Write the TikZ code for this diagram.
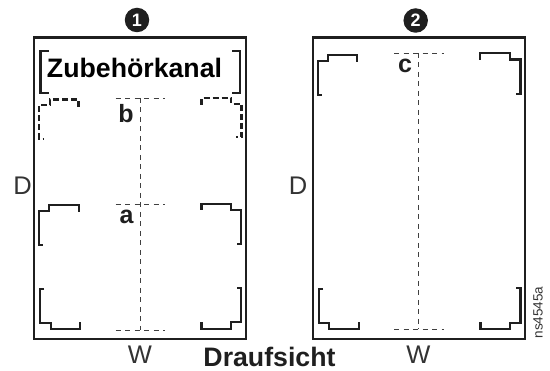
\documentclass[tikz,border=0pt]{standalone}
\usepackage{fontspec}
\setmainfont{Liberation Sans}
\tikzset{
 x=1pt,y=-1pt,
 frame/.style={draw=black!88,line width=2.4pt,line join=miter},
 rail/.style={draw=black!88,line width=2.1pt,line join=miter},
 dashrail/.style={rail,dash pattern=on 6pt off 3pt},
 guide/.style={draw=black!75,line width=0.7pt,dash pattern=on 5pt off 4.5pt},
 bigtext/.style={inner sep=0pt,anchor=base,font=\fontsize{26.7pt}{28pt}\selectfont\bfseries},
 boldtext/.style={inner sep=0pt,anchor=base,font=\fontsize{25pt}{28pt}\selectfont\bfseries,text=black!88},
 dim/.style={inner sep=0pt,anchor=base,font=\fontsize{25.5pt}{28pt}\selectfont,text=black!80},
 badge/.style={circle,fill=black!88,minimum size=24.5pt,inner sep=0pt,text=white,font=\fontsize{18pt}{18pt}\selectfont\bfseries},
}
\begin{document}
\begin{tikzpicture}
\useasboundingbox (0,0) rectangle (550,371);
\path[frame] (33.8,37.5) rectangle (246,339);
\path[frame] (312.8,37.5) rectangle (525,339);
\node[badge] (n1) at (137,20) {1};
\node[badge] (n2) at (415.7,20.5) {2};
% channel brackets
\draw[rail] (49,51) -- (40.5,51) -- (40.5,93) -- (49,93);
\draw[rail] (232,51) -- (240,51) -- (240,93) -- (232,93);
\node[bigtext] (zk) at (134.5,78) {Zubehörkanal};
% panel 1 rails
\draw[dashrail] (78.5,107) -- (78.5,99.5) -- (50,99.5) -- (50,105) -- (39,105) -- (39,139) -- (44,139);
\draw[dashrail] (201.5,105) -- (201.5,98) -- (231,98) -- (231,104) -- (241.5,104) -- (241.5,137) -- (236,137);
\draw[rail] (79,212) -- (79,205) -- (49,205) -- (49,211) -- (39,211) -- (39,245) -- (43,245);
\draw[rail] (201.5,210) -- (201.5,204) -- (231,204) -- (231,210) -- (241,210) -- (241,244) -- (237,244);
\draw[rail] (44,289) -- (40,289) -- (40,323) -- (51,323) -- (51,329) -- (80,329) -- (80,322);
\draw[rail] (237,288) -- (241,288) -- (241,322) -- (231,322) -- (231,329) -- (201.5,329) -- (201.5,322);
% panel 1 guides
\coordinate (a1) at (140.5,98); \coordinate (a2) at (140.5,330);
\draw[guide] (a1) -- (a2);
\draw[guide] (115.5,98) -- (165,98);
\draw[guide] (115.5,204) -- (165,204);
\draw[guide] (115.5,330) -- (165,330);
\node[boldtext] (b) at (126,123) {b};
\node[boldtext] (a) at (126.5,224) {a};
% panel 2 rails
\draw[rail] (357.3,62) -- (357.3,55) -- (327.7,55) -- (327.7,61) -- (317.7,61) -- (317.7,95) -- (322,95);
\draw[rail] (480.3,60) -- (480.3,53) -- (510,53) -- (510,59.5) -- (520.5,59.5) -- (520.5,94) -- (516,94);
\draw[rail] (323,289) -- (319,289) -- (319,323) -- (329,323) -- (329,329) -- (359,329) -- (359,322);
\draw[rail] (516,288) -- (520.5,288) -- (520.5,323) -- (510,323) -- (510,329) -- (480.5,329) -- (480.5,322);
% panel 2 guides
\coordinate (c1) at (418.7,53); \coordinate (c2) at (418.7,329);
\draw[guide] (c1) -- (c2);
\draw[guide] (394,53) -- (444,53);
\draw[guide] (394,329) -- (444,329);
\node[boldtext] (c) at (405,73) {c};
% dimensions
\node[dim] (D1) at (22.5,195) {D};
\node[dim] (D2) at (298,195) {D};
\node[dim] (W1) at (140,363.5) {W};
\node[dim] (W2) at (418.5,363.5) {W};
\node[bigtext,text=black!88] (top) at (269.5,366.5) {Draufsicht};
\node[inner sep=0pt,rotate=90,font=\fontsize{13.5pt}{14pt}\selectfont,text=black!80] (ref) at (538,312.5) {ns4545a};
\end{tikzpicture}
\end{document}
